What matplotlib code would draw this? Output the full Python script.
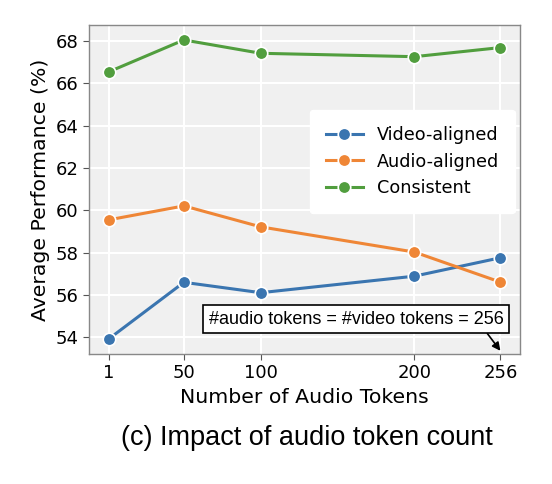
import numpy as np
import matplotlib
matplotlib.use('Agg')
import matplotlib.pyplot as plt

# audio token counts on the x axis
tokens = [1, 50, 100, 200, 256]
video_aligned = [53.92, 56.60, 56.11, 56.89, 57.76]
audio_aligned = [59.55, 60.21, 59.22, 58.03, 56.61]
consistent = [66.54, 68.05, 67.42, 67.26, 67.69]

series = [('Video-aligned', video_aligned, '#3a75b0'),
          ('Audio-aligned', audio_aligned, '#ef8636'),
          ('Consistent', consistent, '#519e3e')]

fig = plt.figure(figsize=(5.52, 4.84), dpi=100)
ax = fig.add_axes([89/552, 1 - 354/484, (520-89)/552, (354-25)/484])
ax.set_facecolor('#f0f0f0')
ax.grid(True, color='white', linewidth=1.5)
ax.set_axisbelow(True)
for s in ax.spines.values():
    s.set_color('#888888')
    s.set_linewidth(1.0)

for name, vals, col in series:
    ax.plot(tokens, vals, '-o', color=col, label=name, linewidth=2.2,
            markersize=9, markeredgecolor='white', markeredgewidth=1.2)

ax.set_xticks(tokens)
ax.set_yticks([54, 56, 58, 60, 62, 64, 66, 68])
ax.tick_params(labelsize=13, length=4, color='#555555')
ax.set_xlabel('Number of Audio Tokens', fontsize=14.7)
ax.set_ylabel('Average Performance (%)', fontsize=14.7)

ax.annotate('#audio tokens = #video tokens = 256', xy=(256, ax.get_ylim()[0] + 0.15),
            xytext=(356/552, 1 - 319/484), textcoords='figure fraction',
            ha='center', va='center', fontsize=13, family='Liberation Sans',
            bbox=dict(boxstyle='square,pad=0.3', fc='white', ec='black', lw=1.2),
            arrowprops=dict(arrowstyle='-|>', color='black', lw=1.2,
                            shrinkA=0, shrinkB=0, mutation_scale=12,
                            relpos=(0.93, 0.0)))

leg = ax.legend(loc='center right', bbox_to_anchor=(0.988, 0.585), borderaxespad=0,
                fontsize=12.7, frameon=True, facecolor='white', edgecolor='white',
                framealpha=1.0, handlelength=2.1, borderpad=0.9, labelspacing=0.5)

fig.text(307/552, 1 - 438/484, '(c) Impact of audio token count', ha='center', va='center',
         fontsize=19.5, family='Liberation Sans')

fig.savefig('out.png', dpi=100)
